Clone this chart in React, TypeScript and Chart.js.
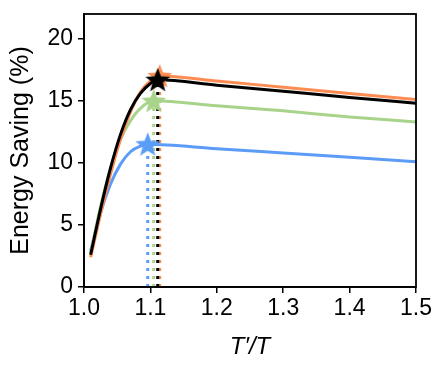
import React, { useEffect, useRef } from "react";
import { Chart, registerables } from "chart.js";

Chart.register(...registerables);

// T'/T values and energy saving (%) for each series
const blackX = [1.01, 1.025, 1.04, 1.055, 1.07, 1.085, 1.1, 1.111, 1.2, 1.3, 1.4, 1.5];
const blackY = [2.6, 6.3, 9.6, 12.3, 14.3, 15.6, 16.4, 16.7, 16.26, 15.77, 15.28, 14.8];
const orangeX = [1.01, 1.025, 1.04, 1.055, 1.07, 1.085, 1.1, 1.114, 1.2, 1.3, 1.4, 1.5];
const orangeY = [2.4, 5.9, 9.1, 11.9, 14.1, 15.7, 16.6, 17.0, 16.6, 16.1, 15.6, 15.1];
const greenX = [1.01, 1.025, 1.04, 1.055, 1.07, 1.085, 1.105, 1.2, 1.3, 1.4, 1.5];
const greenY = [2.7, 6.5, 9.6, 11.9, 13.4, 14.4, 15.0, 14.6, 14.2, 13.7, 13.3];
const blueX = [1.01, 1.025, 1.04, 1.055, 1.07, 1.085, 1.096, 1.2, 1.3, 1.4, 1.5];
const blueY = [2.9, 6.0, 8.3, 9.9, 10.9, 11.35, 11.5, 11.15, 10.8, 10.45, 10.1];

// optimum points (stars)
const peakX = [1.096, 1.105, 1.114, 1.111];
const peakY = [11.5, 15.0, 17.0, 16.7];

const xTicks = [1.0, 1.1, 1.2, 1.3, 1.4, 1.5];
const yTicks = [0, 5, 10, 15, 20];

const BLUE = "#5b9cf6";
const GREEN = "#a8d38a";
const ORANGE = "#fd8c52";
const BLACK = "#000000";

function makeStar(color: string, r: number): HTMLCanvasElement {
  const c = document.createElement("canvas");
  const s = Math.ceil(r * 2 + 4);
  c.width = s;
  c.height = s;
  const ctx = c.getContext("2d")!;
  const cx = s / 2;
  const cy = s / 2 + 1;
  const inner = r * 0.42;
  ctx.beginPath();
  for (let i = 0; i < 10; i++) {
    const rad = i % 2 === 0 ? r : inner;
    const a = -Math.PI / 2 + (i * Math.PI) / 5;
    const px = cx + rad * Math.cos(a);
    const py = cy + rad * Math.sin(a);
    if (i === 0) ctx.moveTo(px, py);
    else ctx.lineTo(px, py);
  }
  ctx.closePath();
  ctx.fillStyle = color;
  ctx.fill();
  return c;
}

const pts = (xs: number[], ys: number[]) => xs.map((x, i) => ({ x, y: ys[i] }));

const frame = {
  id: "frame",
  afterDatasetsDraw(chart: any) {
    const { ctx, chartArea } = chart;
    ctx.save();
    ctx.strokeStyle = "#000";
    ctx.lineWidth = 1.8;
    ctx.strokeRect(chartArea.left, chartArea.top, chartArea.right - chartArea.left, chartArea.bottom - chartArea.top);
    ctx.restore();
  },
};

export default function App() {
  const ref = useRef<HTMLCanvasElement>(null);
  useEffect(() => {
    document.body.style.margin = "0";
    const colors = [BLUE, GREEN, ORANGE, BLACK];
    const lines = [
      { x: blueX, y: blueY, c: BLUE, order: 8 },
      { x: greenX, y: greenY, c: GREEN, order: 7 },
      { x: orangeX, y: orangeY, c: ORANGE, order: 6 },
      { x: blackX, y: blackY, c: BLACK, order: 5 },
    ];
    const datasets: any[] = [];
    peakX.forEach((px, i) => {
      datasets.push({
        data: [
          { x: px, y: 0 },
          { x: px, y: peakY[i] },
        ],
        borderColor: colors[i],
        borderWidth: 3,
        borderDash: [3, 5],
        pointRadius: 0,
        showLine: true,
        order: 12 - i,
      });
    });
    lines.forEach((l) => {
      datasets.push({
        data: pts(l.x, l.y),
        borderColor: l.c,
        borderWidth: 3,
        pointRadius: 0,
        showLine: true,
        cubicInterpolationMode: "monotone",
        order: l.order,
      });
    });
    peakX.forEach((px, i) => {
      datasets.push({
        data: [{ x: px, y: peakY[i] }],
        pointStyle: makeStar(colors[i], 13),
        pointRadius: 13,
        showLine: false,
        order: 4 - i,
      });
    });

    const chart = new Chart(ref.current!, {
      type: "scatter",
      data: { datasets },
      options: {
        animation: false,
        responsive: false,
        layout: { padding: { top: 13, right: 30, left: 0, bottom: 0 } },
        plugins: { legend: { display: false }, tooltip: { enabled: false } },
        scales: {
          x: {
            type: "linear",
            min: 1.0,
            max: 1.5,
            afterFit: (s: any) => {
              s.height = 85;
            },
            afterBuildTicks: (s: any) => {
              s.ticks = xTicks.map((v) => ({ value: v }));
            },
            ticks: {
              color: "#000",
              font: { family: "Liberation Sans", size: 23 },
              padding: 2,
              maxRotation: 0,
              callback: (v: any) => Number(v).toFixed(1),
            },
            grid: { drawOnChartArea: false, drawTicks: true, tickLength: 6, color: "#000", lineWidth: 1.5 },
            border: { display: true, color: "#000", width: 1.8 },
            title: {
              display: true,
              text: "T′/T",
              color: "#000",
              font: { family: "Liberation Sans", size: 24, style: "italic" },
              padding: { top: 0, bottom: 10 },
            },
          },
          y: {
            type: "linear",
            min: 0,
            max: 22,
            afterFit: (s: any) => {
              s.width = 84;
              s.paddingTop = 0;
              s.paddingBottom = 0;
            },
            afterBuildTicks: (s: any) => {
              s.ticks = yTicks.map((v) => ({ value: v }));
            },
            ticks: {
              color: "#000",
              font: { family: "Liberation Sans", size: 23 },
              padding: 5,
            },
            grid: { drawOnChartArea: false, drawTicks: true, tickLength: 6, color: "#000", lineWidth: 1.5 },
            border: { display: true, color: "#000", width: 1.8 },
            title: {
              display: true,
              text: "Energy Saving (%)",
              color: "#000",
              font: { family: "Liberation Sans", size: 25 },
              padding: { top: 6, bottom: 0 },
            },
          },
        },
      },
      plugins: [frame],
    });
    return () => chart.destroy();
  }, []);
  return (
    <div style={{ position: "absolute", left: 0, top: 0, width: 446, height: 372 }}>
      <canvas ref={ref} width={446} height={372} style={{ width: 446, height: 372 }} />
    </div>
  );
}
